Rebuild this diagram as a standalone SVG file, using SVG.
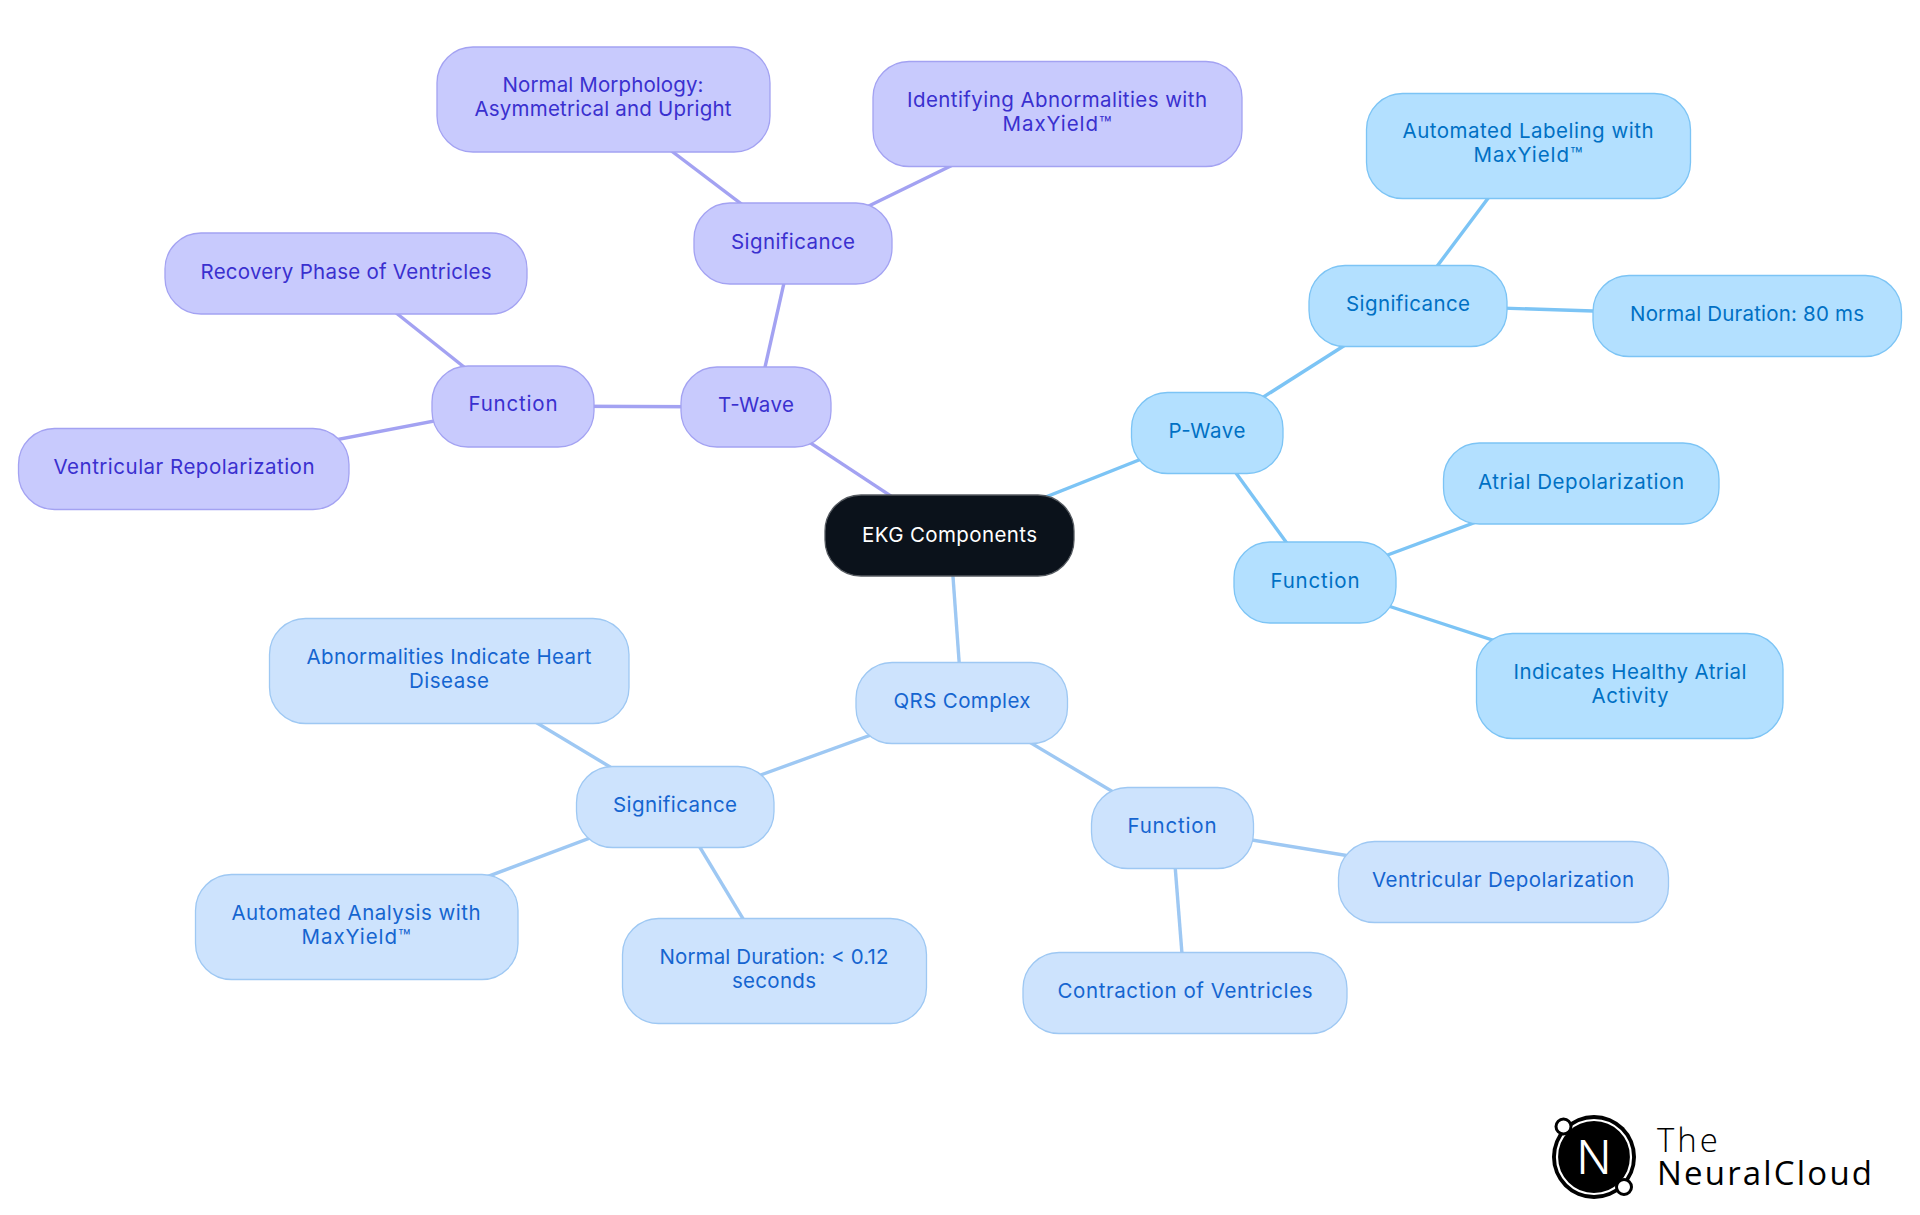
<svg xmlns="http://www.w3.org/2000/svg" width="1920" height="1215" viewBox="0 0 1920 1215">
<style>
text{font-family:Inter,"Noto Sans","Liberation Sans",sans-serif;font-size:20.500px;text-anchor:middle;font-weight:400}
.n{stroke-width:1.3}
.t rect{fill:#c8cafd;stroke:#a3a2f2}.t text{fill:#3a30cf}
.p rect{fill:#b3e0ff;stroke:#7cc4f5}.p text{fill:#0070c4}
.q rect{fill:#cde3fd;stroke:#9ec8f3}.q text{fill:#1565d0}
.c rect{fill:#0b121b;stroke:#555a60}.c text{fill:#fff}
#edges line{stroke-width:3.4;fill:none}
.et{stroke:#a3a2f2}.ep{stroke:#7cc4f5}.eq{stroke:#9ec8f3}
.logo{fill:#000;text-anchor:start;font-family:"Open Sans",Inter,sans-serif}
</style>
<g id="edges">
<line class="et" x1="950" y1="535" x2="756" y2="407"/>
<line class="et" x1="756" y1="407" x2="793" y2="243"/>
<line class="et" x1="756" y1="407" x2="513" y2="406"/>
<line class="et" x1="793" y1="243" x2="603" y2="99"/>
<line class="et" x1="793" y1="243" x2="1057" y2="114"/>
<line class="et" x1="513" y1="406" x2="346" y2="273"/>
<line class="et" x1="513" y1="406" x2="184" y2="469"/>
<line class="ep" x1="950" y1="535" x2="1207" y2="433"/>
<line class="ep" x1="1207" y1="433" x2="1408" y2="305"/>
<line class="ep" x1="1207" y1="433" x2="1315" y2="582"/>
<line class="ep" x1="1408" y1="305" x2="1528" y2="145"/>
<line class="ep" x1="1408" y1="305" x2="1747" y2="316"/>
<line class="ep" x1="1315" y1="582" x2="1581" y2="483"/>
<line class="ep" x1="1315" y1="582" x2="1630" y2="685"/>
<line class="eq" x1="950" y1="535" x2="962" y2="702"/>
<line class="eq" x1="962" y1="702" x2="675" y2="806"/>
<line class="eq" x1="962" y1="702" x2="1172" y2="827"/>
<line class="eq" x1="675" y1="806" x2="449" y2="670"/>
<line class="eq" x1="675" y1="806" x2="356" y2="926"/>
<line class="eq" x1="675" y1="806" x2="774" y2="970"/>
<line class="eq" x1="1172" y1="827" x2="1503" y2="881"/>
<line class="eq" x1="1172" y1="827" x2="1185" y2="992"/>
</g>
<g id="ekg" class="c"><rect class="n" x="825" y="495" width="249" height="81" rx="36"/><text x="949.500" y="542" textLength="175">EKG Components</text></g>
<g id="twave" class="t"><rect class="n" x="681" y="367" width="150" height="80" rx="36"/><text x="756" y="412" textLength="76">T-Wave</text></g>
<g id="tfunc" class="t"><rect class="n" x="432" y="366" width="162" height="81" rx="36"/><text x="513" y="411" textLength="89">Function</text></g>
<g id="tsig" class="t"><rect class="n" x="694" y="203" width="198" height="81" rx="36"/><text x="793" y="249" textLength="124">Significance</text></g>
<g id="tmorph" class="t"><rect class="n" x="437" y="47" width="333" height="105" rx="36"/><text x="603" y="92" textLength="201">Normal Morphology:</text><text x="603" y="116" textLength="257">Asymmetrical and Upright</text></g>
<g id="tident" class="t"><rect class="n" x="873" y="61.500" width="369" height="105" rx="36"/><text x="1057" y="107" textLength="300">Identifying Abnormalities with</text><text x="1057" y="131" textLength="109">MaxYield™</text></g>
<g id="trecov" class="t"><rect class="n" x="165" y="233" width="362" height="81" rx="36"/><text x="346" y="279" textLength="291">Recovery Phase of Ventricles</text></g>
<g id="trepol" class="t"><rect class="n" x="18.500" y="428.500" width="330.500" height="81" rx="36"/><text x="184" y="474" textLength="261">Ventricular Repolarization</text></g>
<g id="pwave" class="p"><rect class="n" x="1131.500" y="392.500" width="151.500" height="81" rx="36"/><text x="1207" y="438" textLength="77">P-Wave</text></g>
<g id="pfunc" class="p"><rect class="n" x="1234" y="542" width="162" height="81" rx="36"/><text x="1315" y="588" textLength="89">Function</text></g>
<g id="psig" class="p"><rect class="n" x="1309" y="265.500" width="198" height="81" rx="36"/><text x="1408" y="311" textLength="124">Significance</text></g>
<g id="plabel" class="p"><rect class="n" x="1366.500" y="93.500" width="324" height="105" rx="36"/><text x="1528" y="138" textLength="251">Automated Labeling with</text><text x="1528" y="162" textLength="109">MaxYield™</text></g>
<g id="pdur" class="p"><rect class="n" x="1593" y="275.500" width="308.500" height="81" rx="36"/><text x="1747" y="321" textLength="234">Normal Duration: 80 ms</text></g>
<g id="patrial" class="p"><rect class="n" x="1443.500" y="443" width="275.500" height="81" rx="36"/><text x="1581" y="489" textLength="206">Atrial Depolarization</text></g>
<g id="phealthy" class="p"><rect class="n" x="1476.500" y="633.500" width="306.500" height="105" rx="36"/><text x="1630" y="679" textLength="233">Indicates Healthy Atrial</text><text x="1630" y="703" textLength="77">Activity</text></g>
<g id="qrs" class="q"><rect class="n" x="856" y="662.500" width="211.500" height="81" rx="36"/><text x="962" y="708" textLength="137">QRS Complex</text></g>
<g id="qsig" class="q"><rect class="n" x="576.500" y="766.500" width="197.500" height="81" rx="36"/><text x="675" y="812" textLength="124">Significance</text></g>
<g id="qfunc" class="q"><rect class="n" x="1091.500" y="787.500" width="162" height="81" rx="36"/><text x="1172" y="833" textLength="89">Function</text></g>
<g id="qabn" class="q"><rect class="n" x="269.500" y="618.500" width="359.500" height="105" rx="36"/><text x="449" y="664" textLength="285">Abnormalities Indicate Heart</text><text x="449" y="688" textLength="80">Disease</text></g>
<g id="qauto" class="q"><rect class="n" x="195.500" y="874.500" width="322.500" height="105" rx="36"/><text x="356" y="920" textLength="249">Automated Analysis with</text><text x="356" y="944" textLength="109">MaxYield™</text></g>
<g id="qdur" class="q"><rect class="n" x="622.500" y="918.500" width="304" height="105" rx="36"/><text x="774" y="964" textLength="229">Normal Duration: &lt; 0.12</text><text x="774" y="988" textLength="84">seconds</text></g>
<g id="qdep" class="q"><rect class="n" x="1338.500" y="841.500" width="330" height="81" rx="36"/><text x="1503" y="887" textLength="262">Ventricular Depolarization</text></g>
<g id="qcon" class="q"><rect class="n" x="1023" y="952.500" width="324" height="81" rx="36"/><text x="1185" y="998" textLength="255">Contraction of Ventricles</text></g>
<g id="logo">
<circle cx="1594" cy="1157" r="42" fill="#000"/>
<circle cx="1594" cy="1157" r="37" fill="none" stroke="#fff" stroke-width="2.200"/>
<circle cx="1563.500" cy="1126.500" r="7.500" fill="#fff" stroke="#000" stroke-width="3"/>
<circle cx="1624" cy="1187" r="7.500" fill="#fff" stroke="#000" stroke-width="3"/>
<text x="1594" y="1173.500" style="font-size:46px;font-family:Inter,sans-serif;font-weight:300;fill:#fff">N</text>
<text class="logo" x="1657" y="1152" textLength="61" style="font-size:33px;font-weight:300">The</text>
<text class="logo" x="1657" y="1185" textLength="215" style="font-size:33px;font-weight:400">NeuralCloud</text>
</g>
</svg>
